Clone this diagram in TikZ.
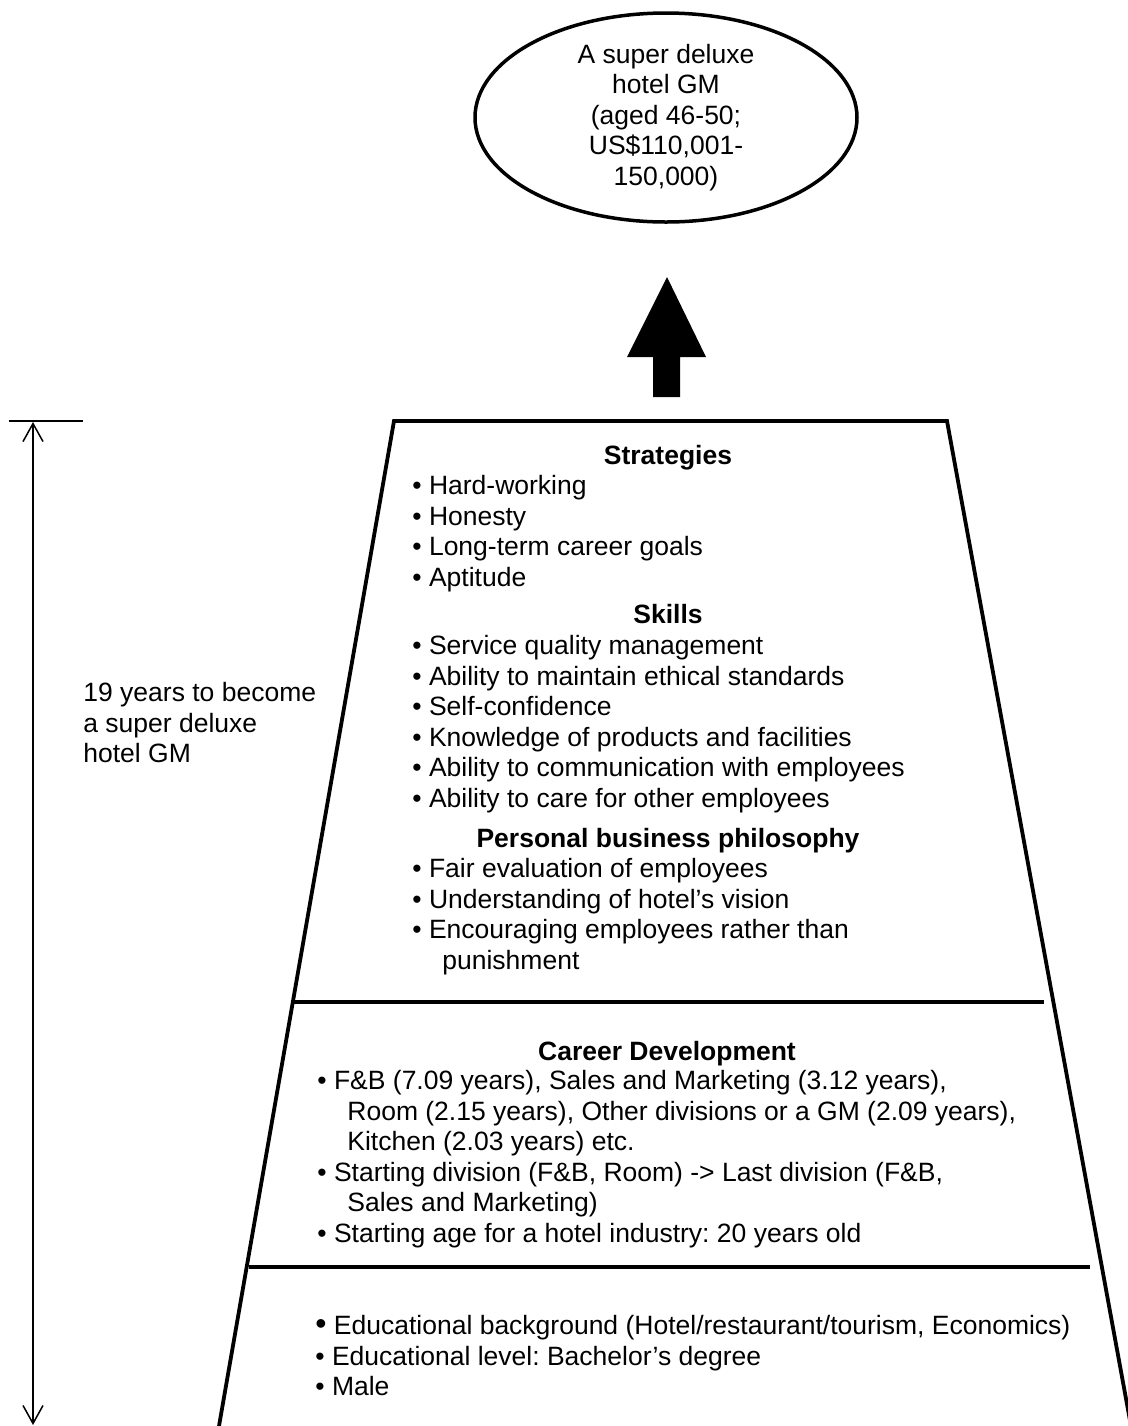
\documentclass[tikz,border=0pt]{standalone}
\usepackage{fontspec}
\setmainfont{Liberation Sans}
\usetikzlibrary{shapes.geometric,arrows.meta}
\frenchspacing
\newcommand{\itm}{\textbullet\ }
\newcommand{\cont}{\hspace*{15pt}}
\newcommand{\bodysize}{\fontsize{13.25pt}{15.25pt}\selectfont}

\begin{document}
\begin{tikzpicture}[
    x=0.5pt, y=-0.5pt,
    goal/.style={ellipse,draw=black,line width=1.75pt,minimum width=191pt,minimum height=104.5pt,
      inner sep=0pt,align=center,font=\bodysize},
    head/.style={font=\bodysize\bfseries,inner sep=0pt,anchor=base},
    blist/.style={font=\bodysize,inner sep=0pt,anchor=base west},
    note/.style={font=\bodysize,inner sep=0pt,anchor=base west},
    frame/.style={line width=1.9pt,line join=miter},
    sep/.style={line width=1.9pt},
    dim/.style={line width=0.75pt},
    >={Straight Barb[length=9pt,width=10pt]}
  ]
  \useasboundingbox (0,0) rectangle (1128,1426);

  % Goal
  \node[goal] (gm) at (666,117.5) {A super deluxe\\hotel GM\\(aged 46-50;\\US\$110,001-\\150,000)};
  \fill (667,277) -- (706,357) -- (680,357) -- (680,397) -- (653,397) -- (653,357) -- (627,357) -- cycle;

  % Pyramid
  \draw[frame] (219,1426) -- (394,421) -- (947,421) -- (1131,1426);
  \draw[sep] (294,1002) -- (1044,1002);
  \draw[sep] (249,1267) -- (1090,1267);

  \node[head] (strategies) at (668,464.5) {Strategies};
  \node[blist] (stratlist) at (412,494.5) {%
    \begin{tabular}[t]{@{}l@{}}
      \itm Hard-working \\
      \itm Honesty \\
      \itm Long-term career goals \\
      \itm Aptitude \\
    \end{tabular}
  };
  \node[head] (skills) at (668,623.5) {Skills};
  \node[blist] (skilllist) at (412,654.5) {%
    \begin{tabular}[t]{@{}l@{}}
      \itm Service quality management \\
      \itm Ability to maintain ethical standards \\
      \itm Self-confidence \\
      \itm Knowledge of products and facilities \\
      \itm Ability to communication with employees \\
      \itm Ability to care for other employees \\
    \end{tabular}
  };
  \node[head] (philosophy) at (668,847.5) {Personal business philosophy};
  \node[blist] (philolist) at (412,877.5) {%
    \begin{tabular}[t]{@{}l@{}}
      \itm Fair evaluation of employees \\
      \itm Understanding of hotel’s vision \\
      \itm Encouraging employees rather than \\
      \cont punishment \\
    \end{tabular}
  };

  \node[head] (career) at (667,1060.5) {Career Development};
  \node[blist] (careerlist) at (317,1089.5) {%
    \begin{tabular}[t]{@{}l@{}}
      \itm F\&B (7.09 years), Sales and Marketing (3.12 years), \\
      \cont Room (2.15 years), Other divisions or a GM (2.09 years), \\
      \cont Kitchen (2.03 years) etc. \\
      \itm Starting division (F\&B, Room) -> Last division (F\&B, \\
      \cont Sales and Marketing) \\
      \itm Starting age for a hotel industry: 20 years old \\
    \end{tabular}
  };

  \node[blist] (baselist) at (315,1334.5) {%
    \begin{tabular}[t]{@{}l@{}}
      {\fontsize{16pt}{15.25pt}\selectfont\textbullet}\ Educational background (Hotel/restaurant/tourism, Economics) \\
      \itm Educational level: Bachelor’s degree \\
      \itm Male \\
    \end{tabular}
  };

  % Time span
  \coordinate (dimtop) at (33,422);
  \coordinate (dimbot) at (33,1425);
  \draw[dim] (9,421) -- (83,421);
  \draw[dim,<->] (dimtop) -- (dimbot);
  \node[note] (years) at (83,701.5) {%
    \begin{tabular}[t]{@{}l@{}}
      19 years to become \\
      a super deluxe \\
      hotel GM \\
    \end{tabular}
  };
\end{tikzpicture}
\end{document}
